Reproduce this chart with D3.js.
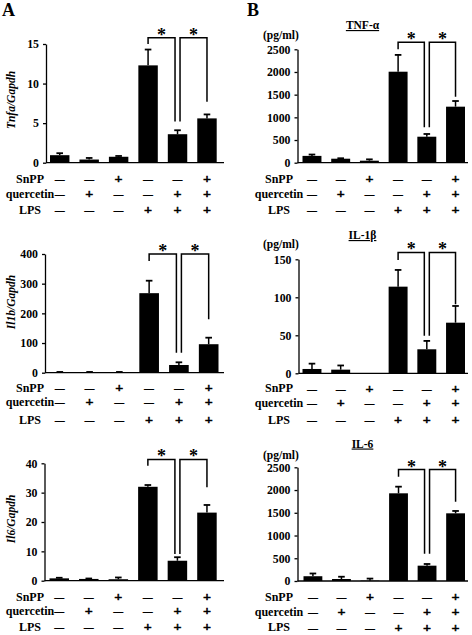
<!DOCTYPE html>
<html>
<head>
<meta charset="utf-8">
<script src="https://cdn.jsdelivr.net/npm/d3@7"></script>
<style>
  html, body { margin: 0; padding: 0; background: #fff; }
  svg { display: block; }
  text { font-family: "Liberation Serif", "Times New Roman", serif; font-weight: bold; fill: #000; }
</style>
</head>
<body>
<div id="chart"></div>
<script>
// ---------- DATA ----------
const groups = ["g1", "g2", "g3", "g4", "g5", "g6"];
const snppRow = ["–", "–", "+", "–", "–", "+"];
const quercetinRow = ["–", "+", "–", "–", "+", "+"];
const lpsRow = ["–", "–", "–", "+", "+", "+"];
const rowLabels = ["SnPP", "quercetin", "LPS"];

// Panel A: mRNA (relative to Gapdh)
const tnfaMrna = [0.95, 0.4, 0.75, 12.3, 3.6, 5.6];
const tnfaMrnaErr = [0.25, 0.2, 0.1, 2.0, 0.5, 0.5];
const tnfaMrnaTicks = [0, 5, 10, 15];
const tnfaMrnaSig = { top: 15.8, legs: [15.0, 5.2, 5.2, 7.7] };

const il1bMrna = [2, 2, 2, 268, 26, 96];
const il1bMrnaErr = [0.5, 0.5, 0.5, 42, 9, 22];
const il1bMrnaTicks = [0, 100, 200, 300, 400];
const il1bMrnaSig = { top: 400, legs: [376, 67, 67, 180] };

const il6Mrna = [0.8, 0.6, 0.5, 32, 6.8, 23.2];
const il6MrnaErr = [0.2, 0.15, 0.6, 0.6, 1.2, 2.6];
const il6MrnaTicks = [0, 10, 20, 30, 40];
const il6MrnaSig = { top: 41.3, legs: [39.2, 9.1, 9.1, 31.8] };

// Panel B: protein (pg/ml)
const tnfaProt = [150, 88, 44, 2006, 573, 1235];
const tnfaProtErr = [30, 10, 30, 370, 60, 125];
const tnfaProtTicks = [0, 500, 1000, 1500, 2000, 2500];
const tnfaProtSig = { top: 2654, legs: [2500, 780, 780, 1455] };

const il1bProt = [5.7, 4.8, 0, 114, 31.6, 66.6];
const il1bProtErr = [7, 5.5, 0, 22, 11, 22];
const il1bProtTicks = [0, 50, 100, 150];
const il1bProtSig = { top: 159, legs: [149, 49.5, 49.5, 91] };

const il6Prot = [105, 44, 8, 1928, 337, 1488];
const il6ProtErr = [60, 50, 45, 146, 37, 52];
const il6ProtTicks = [0, 500, 1000, 1500, 2000, 2500];
const il6ProtSig = { top: 2450, legs: [2294, 600, 600, 1744] };

// ---------- LAYOUT ----------
const W = 472, H = 635;
const svg = d3.select("#chart").append("svg").attr("width", W).attr("height", H);

svg.append("text").attr("x", 2).attr("y", 16).attr("font-size", 18).text("A");
svg.append("text").attr("x", 247).attr("y", 16).attr("font-size", 18).text("B");

const panels = [
  { vals: tnfaMrna, errs: tnfaMrnaErr, ticks: tnfaMrnaTicks, sig: tnfaMrnaSig,
    axisX: 46, axisEnd: 224, bars: [50, 216.7], y0: 162.7, y1: 44,
    ytitle: "Tnfa/Gapdh", ytitleY: 100, rowY: [179, 193.7, 210], side: "A" },
  { vals: il1bMrna, errs: il1bMrnaErr, ticks: il1bMrnaTicks, sig: il1bMrnaSig,
    axisX: 45, axisEnd: 224, bars: [50, 218.5], y0: 372.7, y1: 254,
    ytitle: "Il1b/Gapdh", ytitleY: 302, rowY: [388, 402, 420], side: "A" },
  { vals: il6Mrna, errs: il6MrnaErr, ticks: il6MrnaTicks, sig: il6MrnaSig,
    axisX: 44.5, axisEnd: 224, bars: [49.5, 216.7], y0: 580.7, y1: 463.3,
    ytitle: "Il6/Gapdh", ytitleY: 519, rowY: [596.7, 611, 627], side: "A" },
  { vals: tnfaProt, errs: tnfaProtErr, ticks: tnfaProtTicks, sig: tnfaProtSig,
    axisX: 297.5, axisEnd: 468, bars: [302.5, 465], y0: 162.7, y1: 49.3,
    title: "TNF-α", titleY: 29, unitY: 39, rowY: [179, 193.7, 210], side: "B" },
  { vals: il1bProt, errs: il1bProtErr, ticks: il1bProtTicks, sig: il1bProtSig,
    axisX: 298.5, axisEnd: 468, bars: [302.5, 465], y0: 373.3, y1: 259.3,
    title: "IL-1β", titleY: 239, unitY: 248, rowY: [388.3, 402.7, 420], side: "B" },
  { vals: il6Prot, errs: il6ProtErr, ticks: il6ProtTicks, sig: il6ProtSig,
    axisX: 297.5, axisEnd: 468, bars: [303.5, 465], y0: 581, y1: 467.3,
    title: "IL-6", titleY: 447.5, unitY: 458.8, rowY: [596.7, 611.5, 627.3], side: "B" }
];

const rows = [snppRow, quercetinRow, lpsRow];

panels.forEach(p => {
  const g = svg.append("g");
  const x = d3.scaleBand().domain(groups).range(p.bars).paddingInner(0.34).paddingOuter(0);
  const yMax = p.ticks[p.ticks.length - 1];
  const y = d3.scaleLinear().domain([0, yMax]).range([p.y0, p.y1]);

  // y axis
  const yAxis = d3.axisLeft(y).tickValues(p.ticks).tickFormat(d3.format("d"))
    .tickSize(3).tickPadding(4).tickSizeOuter(0);
  const ag = g.append("g").attr("transform", `translate(${p.axisX},0)`).call(yAxis);
  ag.select(".domain").attr("stroke", "#000").attr("stroke-width", 1.3);
  ag.selectAll(".tick line").attr("stroke", "#000").attr("stroke-width", 1.3);
  ag.selectAll(".tick text").attr("font-size", 11.8)
    .attr("font-family", "Liberation Serif, serif").attr("font-weight", "bold").attr("fill", "#000");

  // x baseline
  g.append("line").attr("x1", p.axisX).attr("x2", p.axisEnd)
    .attr("y1", y(0)).attr("y2", y(0)).attr("stroke", "#000").attr("stroke-width", 1.3);

  // bars
  g.selectAll("rect.bar").data(p.vals).join("rect").attr("class", "bar")
    .attr("x", (d, i) => x(groups[i])).attr("width", x.bandwidth())
    .attr("y", d => y(d)).attr("height", d => y(0) - y(d)).attr("fill", "#000");

  // error bars (upper only)
  const cap = 3.3;
  p.vals.forEach((v, i) => {
    if (p.errs[i] <= 0) return;
    const cx = x(groups[i]) + x.bandwidth() / 2;
    g.append("line").attr("x1", cx).attr("x2", cx).attr("y1", y(v)).attr("y2", y(v + p.errs[i]))
      .attr("stroke", "#000").attr("stroke-width", 1.5);
    g.append("line").attr("x1", cx - cap).attr("x2", cx + cap)
      .attr("y1", y(v + p.errs[i])).attr("y2", y(v + p.errs[i]))
      .attr("stroke", "#000").attr("stroke-width", 1.8);
  });

  // significance brackets
  const c = i => x(groups[i]) + x.bandwidth() / 2;
  const yt = y(p.sig.top);
  const L = p.sig.legs;
  const b1 = [[c(3), y(L[0])], [c(3), yt], [c(4) - 2.5, yt], [c(4) - 2.5, y(L[1])]];
  const b2 = [[c(4) + 2.5, y(L[2])], [c(4) + 2.5, yt], [c(5), yt], [c(5), y(L[3])]];
  const line = d3.line();
  [b1, b2].forEach(b => {
    g.append("path").attr("d", line(b)).attr("fill", "none")
      .attr("stroke", "#000").attr("stroke-width", 1.5);
    g.append("text").attr("x", (b[0][0] + b[3][0]) / 2).attr("y", yt + 3)
      .attr("text-anchor", "middle").attr("font-size", 18).text("*");
  });

  // y title / panel title
  if (p.ytitle) {
    g.append("text").attr("transform", `translate(15,${p.ytitleY}) rotate(-90)`)
      .attr("text-anchor", "middle").attr("font-size", 11.5).attr("font-style", "italic")
      .text(p.ytitle);
  }
  if (p.title) {
    g.append("text").attr("x", 362.5).attr("y", p.titleY)
      .attr("text-anchor", "middle").attr("font-size", 11.5)
      .attr("text-decoration", "underline").text(p.title);
    g.append("text").attr("x", 263).attr("y", p.unitY).attr("font-size", 11.5).text("(pg/ml)");
  }

  // treatment rows
  const labelX = p.side === "A" ? 30 : 279;
  rows.forEach((r, ri) => {
    g.append("text").attr("x", labelX).attr("y", p.rowY[ri] + 4)
      .attr("text-anchor", "middle").attr("font-size", 12).text(rowLabels[ri]);
    r.forEach((s, i) => {
      const isPlus = s === "+";
      const tw = isPlus ? 8 : 9.5;
      g.append("text").attr("x", c(i) - tw / 2).attr("y", p.rowY[ri] + (isPlus ? 4.4 : 4.2))
        .attr("font-size", isPlus ? 12.5 : 12).attr("textLength", tw)
        .attr("lengthAdjust", "spacingAndGlyphs")
        .attr("fill", "#000").attr("stroke", "#000").attr("stroke-width", isPlus ? 0.5 : 0.2)
        .text(s);
    });
  });
});
</script>
</body>
</html>
